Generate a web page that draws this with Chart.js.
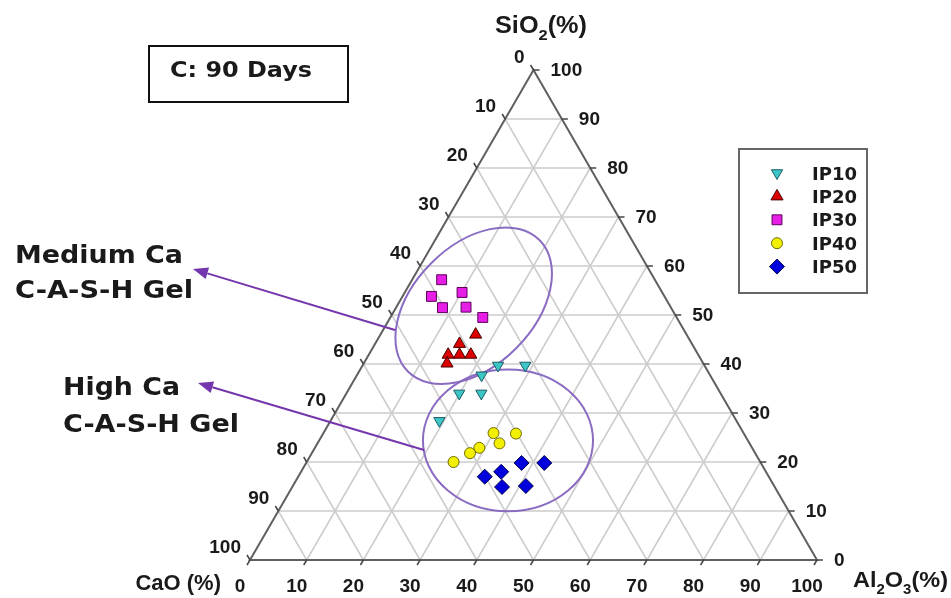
<!DOCTYPE html>
<html>
<head>
<meta charset="utf-8">
<script src="https://cdn.jsdelivr.net/npm/chart.js@4.4.1/dist/chart.umd.min.js"></script>
<style>
  html, body { margin: 0; padding: 0; background: #fff; }
  #wrap { width: 951px; height: 598px; }
</style>
</head>
<body>
<div id="wrap"><canvas id="ternChart" width="951" height="598"></canvas></div>
<script>
// compositions: [CaO, SiO2, Al2O3] in %
const ip10 = [[36.4, 39.7, 23.9], [31.6, 39.7, 28.7], [40.3, 37.7, 22.0], [46.1, 34.0, 19.9], [42.2, 34.0, 23.8], [52.4, 28.4, 19.2]];
const ip20 = [[37.2, 46.0, 16.8], [41.0, 44.1, 14.9], [44.1, 41.9, 14.0], [42.1, 41.9, 16.0], [40.1, 41.9, 18.0], [45.2, 40.1, 14.7]];
const ip30 = [[37.6, 57.2, 5.2], [41.1, 53.8, 5.1], [40.3, 51.5, 8.2], [35.3, 54.6, 10.1], [36.1, 51.6, 12.3], [34.2, 49.5, 16.3]];
const ip40 = [[44.1, 25.9, 30.0], [40.2, 25.8, 34.0], [44.1, 23.8, 32.1], [48.1, 22.9, 29.0], [50.3, 21.8, 27.9], [54.1, 20.0, 25.9]];
const ip50 = [[42.2, 19.8, 38.0], [38.2, 19.8, 42.0], [46.7, 18.0, 35.3], [50.1, 17.0, 32.9], [48.1, 14.9, 37.0], [43.8, 15.1, 41.1]];

const seriesNames = ['IP10', 'IP20', 'IP30', 'IP40', 'IP50'];
const tickValues = [0, 10, 20, 30, 40, 50, 60, 70, 80, 90, 100];

// gel regions (centre as composition, radii in axis units)
const gelCentres = [[34.6, 51.9, 13.5], [42.3, 24.4, 33.3]];
const gelRadii = [[16.4, 10.6], [15.0, 12.5]];
const gelTilt = [-45, 0];

const H = Math.sqrt(3) / 2;
function toXY(ca, si, al) {
    const s = ca + si + al;
    si = si * 100 / s; al = al * 100 / s;
    return { x: al + si / 2, y: si * H };
}

const FONT = '"Liberation Sans", Arial, sans-serif';
const NOTE_FONT = '"DejaVu Sans", Verdana, sans-serif';

function stretchText(ctx, text, x, y, font, width, align) {
    ctx.font = font;
    const nat = ctx.measureText(text).width;
    const k = width ? width / nat : 1;
    ctx.save();
    ctx.translate(align === 'right' ? x - nat * k : x, y);
    ctx.scale(k, 1);
    ctx.textAlign = 'left';
    ctx.fillText(text, 0, 0);
    ctx.restore();
}

// text with subscripts: parts = [[text, isSub], ...]
function formula(ctx, parts, x, y, size, width) {
    const fonts = parts.map(p => 'bold ' + (p[1] ? Math.round(size * 0.65) : size) + 'px ' + FONT);
    let nat = 0;
    parts.forEach((p, i) => { ctx.font = fonts[i]; nat += ctx.measureText(p[0]).width; });
    const k = width ? width / nat : 1;
    ctx.save();
    ctx.translate(x, y);
    ctx.scale(k, 1);
    ctx.textAlign = 'left';
    ctx.textBaseline = 'alphabetic';
    let cx = 0;
    parts.forEach((p, i) => {
        ctx.font = fonts[i];
        ctx.fillText(p[0], cx, p[1] ? size * 0.3 : 0);
        cx += ctx.measureText(p[0]).width;
    });
    ctx.restore();
}

function marker(ctx, ds, x, y) {
    const r = ds.pointRadius;
    ctx.save();
    ctx.fillStyle = ds.backgroundColor;
    ctx.strokeStyle = ds.borderColor;
    ctx.lineWidth = 1;
    ctx.beginPath();
    if (ds.pointStyle === 'triangle') {
        const rot = (ds.rotation || 0) * Math.PI / 180;
        for (let i = 0; i < 3; i++) {
            const a = rot + i * 2 * Math.PI / 3;
            ctx.lineTo(x + Math.sin(a) * r, y - Math.cos(a) * r);
        }
        ctx.closePath();
    } else if (ds.pointStyle === 'rect') {
        const s = r * Math.SQRT1_2;
        ctx.rect(x - s, y - s, 2 * s, 2 * s);
    } else if (ds.pointStyle === 'rectRot') {
        ctx.moveTo(x - r, y); ctx.lineTo(x, y - r); ctx.lineTo(x + r, y); ctx.lineTo(x, y + r);
        ctx.closePath();
    } else {
        ctx.arc(x, y, r, 0, Math.PI * 2);
    }
    ctx.fill();
    ctx.stroke();
    ctx.restore();
}

function arrow(ctx, from, to) {
    const ang = Math.atan2(to[1] - from[1], to[0] - from[0]);
    const len = 15, half = 6;
    const bx = to[0] - Math.cos(ang) * len, by = to[1] - Math.sin(ang) * len;
    ctx.beginPath();
    ctx.moveTo(from[0], from[1]);
    ctx.lineTo(bx, by);
    ctx.stroke();
    ctx.beginPath();
    ctx.moveTo(to[0], to[1]);
    ctx.lineTo(bx + Math.sin(ang) * half, by - Math.cos(ang) * half);
    ctx.lineTo(bx - Math.sin(ang) * half, by + Math.cos(ang) * half);
    ctx.closePath();
    ctx.fill();
}

const ternaryPlugin = {
    id: 'ternary',
    beforeDatasetsDraw(chart) {
        const ctx = chart.ctx;
        const xs = chart.scales.x, ys = chart.scales.y;
        const P = (ca, si, al) => { const q = toXY(ca, si, al); return [xs.getPixelForValue(q.x), ys.getPixelForValue(q.y)]; };
        const seg = (a, b) => { ctx.beginPath(); ctx.moveTo(a[0], a[1]); ctx.lineTo(b[0], b[1]); ctx.stroke(); };

        ctx.save();
        ctx.strokeStyle = '#cccccc';
        ctx.lineWidth = 1.5;
        tickValues.slice(1, -1).forEach(t => {
            seg(P(100 - t, t, 0), P(0, t, 100 - t));
            seg(P(100 - t, 0, t), P(0, 100 - t, t));
            seg(P(t, 0, 100 - t), P(t, 100 - t, 0));
        });

        // triangle edges
        ctx.strokeStyle = '#5f5f5f';
        ctx.lineWidth = 2;
        ctx.beginPath();
        const A = P(100, 0, 0), B = P(0, 0, 100), C = P(0, 100, 0);
        ctx.moveTo(A[0], A[1]); ctx.lineTo(B[0], B[1]); ctx.lineTo(C[0], C[1]); ctx.closePath();
        ctx.stroke();

        // small ticks
        ctx.lineWidth = 1.5;
        ctx.strokeStyle = '#444';
        tickValues.forEach(t => {
            const l = P(t, 100 - t, 0);
            seg(l, [l[0] - 3, l[1] - 5]);
            const r = P(0, t, 100 - t);
            seg(r, [r[0] + 6, r[1]]);
            const b = P(100 - t, 0, t);
            seg(b, [b[0] - 3, b[1] + 5]);
        });

        // gel ellipses
        ctx.strokeStyle = '#8a6cc2';
        ctx.lineWidth = 2;
        const ux = xs.getPixelForValue(1) - xs.getPixelForValue(0);
        gelCentres.forEach((c, i) => {
            const p = P(c[0], c[1], c[2]);
            ctx.beginPath();
            ctx.ellipse(p[0], p[1], gelRadii[i][0] * ux, gelRadii[i][1] * ux, gelTilt[i] * Math.PI / 180, 0, Math.PI * 2);
            ctx.stroke();
        });
        ctx.restore();
    },
    afterDraw(chart) {
        const ctx = chart.ctx;
        const xs = chart.scales.x, ys = chart.scales.y;
        const P = (ca, si, al) => { const q = toXY(ca, si, al); return [xs.getPixelForValue(q.x), ys.getPixelForValue(q.y)]; };

        ctx.save();
        ctx.fillStyle = '#1a1a1a';
        ctx.textBaseline = 'middle';
        const tickFont = 'bold 19px ' + FONT;
        tickValues.forEach(t => {
            ctx.font = tickFont;
            const l = P(t, 100 - t, 0);
            ctx.textAlign = 'right';
            ctx.fillText(String(t), l[0] - 9, l[1] - 12);
            const r = P(0, t, 100 - t);
            ctx.textAlign = 'left';
            ctx.fillText(String(t), r[0] + 17, r[1] + 1);
            const b = P(100 - t, 0, t);
            ctx.textAlign = 'center';
            ctx.fillText(String(t), b[0] - 10, b[1] + 27);
        });

        // axis titles
        ctx.textBaseline = 'alphabetic';
        formula(ctx, [['SiO', false], ['2', true], ['(%)', false]], 495, 33, 23, 92);
        formula(ctx, [['Al', false], ['2', true], ['O', false], ['3', true], ['(%)', false]], 853, 587, 22, 95);
        ctx.textAlign = 'right';
        ctx.font = 'bold 22px ' + FONT;
        ctx.fillText('CaO (%)', 221, 590);

        // title box
        ctx.strokeStyle = '#111';
        ctx.lineWidth = 2;
        ctx.strokeRect(149, 46, 199, 56);
        stretchText(ctx, 'C: 90 Days', 170, 77, 'bold 21px ' + NOTE_FONT, 142);

        // gel labels
        const gf = 'bold 25px ' + NOTE_FONT;
        stretchText(ctx, 'Medium Ca', 15, 263, gf, 168);
        stretchText(ctx, 'C-A-S-H Gel', 15, 298, gf, 178);
        stretchText(ctx, 'High Ca', 63, 395, gf, 117);
        stretchText(ctx, 'C-A-S-H Gel', 63, 432, gf, 176);

        // arrows
        ctx.strokeStyle = '#7436ad';
        ctx.fillStyle = '#7436ad';
        ctx.lineWidth = 2;
        arrow(ctx, [395, 330], [193, 269]);
        arrow(ctx, [424, 450], [198, 383]);

        // legend
        ctx.strokeStyle = '#666';
        ctx.lineWidth = 2;
        ctx.strokeRect(739, 149, 128, 144);
        chart.data.datasets.forEach((ds, i) => {
            const yy = 173 + i * 23.4;
            marker(ctx, ds, 777, yy);
            ctx.fillStyle = '#1a1a1a';
            stretchText(ctx, ds.label, 812, yy + 6.5, 'bold 17px ' + NOTE_FONT, 45);
        });
        ctx.restore();
    }
};

const pts = arr => arr.map(p => toXY(p[0], p[1], p[2]));

new Chart(document.getElementById('ternChart'), {
    type: 'scatter',
    data: {
        datasets: [
            { label: seriesNames[0], data: pts(ip10), pointStyle: 'triangle', rotation: 180, pointRadius: 6.5,
              backgroundColor: '#3cc6c6', borderColor: '#1c5c66', borderWidth: 1 },
            { label: seriesNames[1], data: pts(ip20), pointStyle: 'triangle', rotation: 0, pointRadius: 7,
              backgroundColor: '#dd0000', borderColor: '#4a0000', borderWidth: 1 },
            { label: seriesNames[2], data: pts(ip30), pointStyle: 'rect', pointRadius: 7,
              backgroundColor: '#e61ee6', borderColor: '#5a005a', borderWidth: 1 },
            { label: seriesNames[3], data: pts(ip40), pointStyle: 'circle', pointRadius: 5.5,
              backgroundColor: '#f2f000', borderColor: '#6e6a00', borderWidth: 1 },
            { label: seriesNames[4], data: pts(ip50), pointStyle: 'rectRot', pointRadius: 7.5,
              backgroundColor: '#0000dd', borderColor: '#00004a', borderWidth: 1 }
        ]
    },
    options: {
        responsive: false,
        animation: false,
        layout: { padding: { left: 250, right: 134, top: 70, bottom: 38 } },
        plugins: {
            legend: { display: false },
            tooltip: { enabled: false }
        },
        scales: {
            x: { type: 'linear', min: 0, max: 100, display: false },
            y: { type: 'linear', min: 0, max: 100 * H, display: false }
        }
    },
    plugins: [ternaryPlugin]
});
</script>
</body>
</html>
